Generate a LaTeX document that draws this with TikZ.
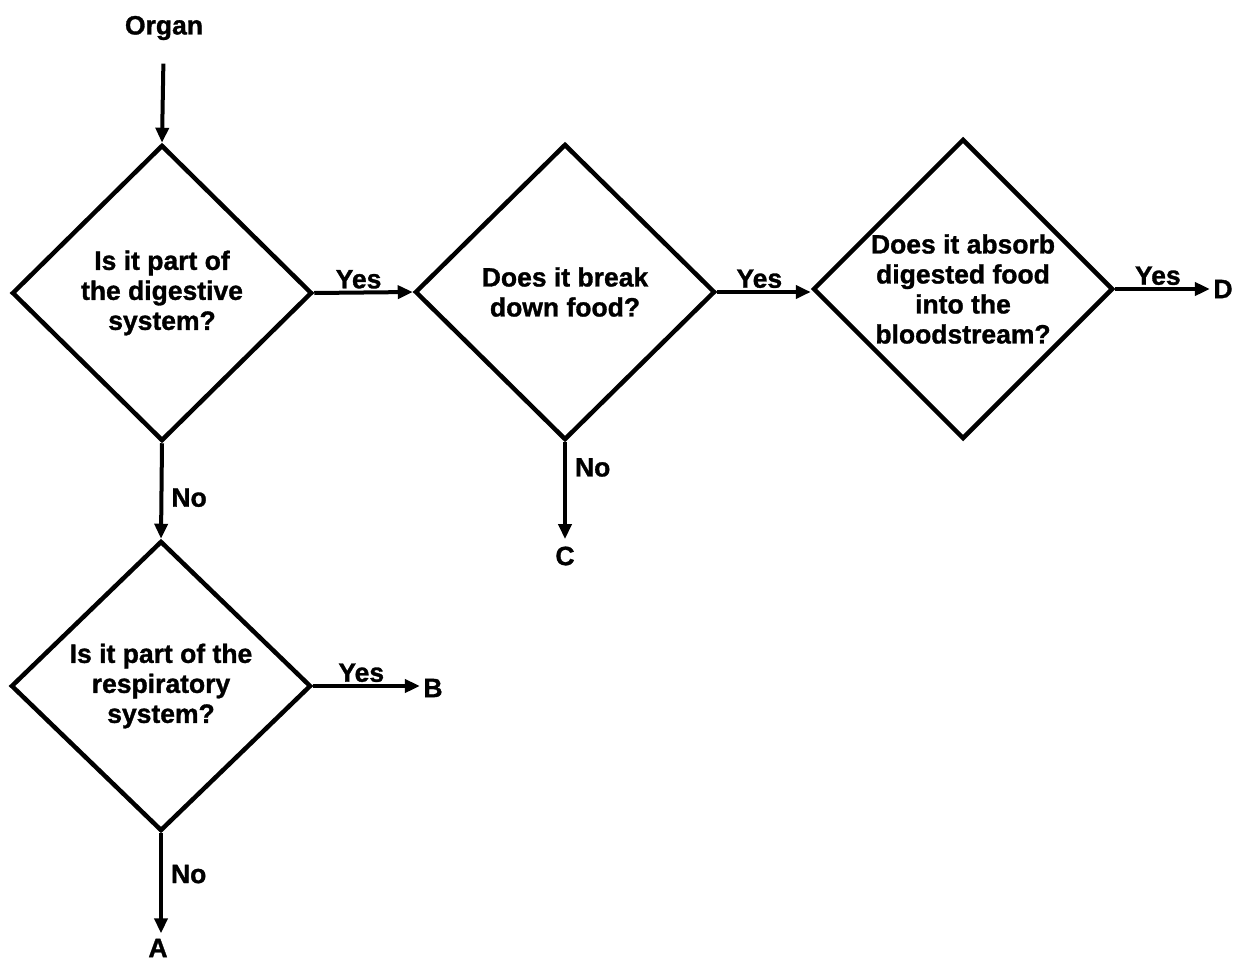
\documentclass[tikz,border=0pt]{standalone}
\usepackage{fontspec}
\setmainfont[FakeBold=1.2]{Liberation Sans}
\usetikzlibrary{shapes.geometric,arrows.meta}
\begin{document}
\begin{tikzpicture}[x=1pt,y=-1pt,
  every node/.style={font=\fontsize{26.5}{30}\selectfont\bfseries},
  dec/.style={draw,shape=diamond,line width=4.5pt,inner sep=0pt,align=center,
    minimum width=300pt,minimum height=296pt},
  arr/.style={line width=4pt,-{Triangle[length=15pt,width=13pt]}},
  lbl/.style={inner sep=2pt}]
\useasboundingbox (0,0) rectangle (1233,963);
\node (organ) at (164,28) {Organ};
\node[dec] (d1) at (162,293) {Is it part of\\the digestive\\system?};
\node[dec] (d2) at (565,292) {Does it break\\down food?};
\node[dec,minimum height=300pt] (d3) at (963,289) {Does it absorb\\digested food\\into the\\bloodstream?};
\node[dec,minimum height=290pt] (d4) at (161,686) {Is it part of the\\respiratory\\system?};
\node (A) at (158,948) {A};
\node (B) at (433,688) {B};
\node (C) at (565,556) {C};
\node (D) at (1223,289) {D};
\draw[arr,shorten <=20pt] (organ) -- (d1.north);
\draw[arr] (d1.east) -- (d2.west) node[lbl,pos=0.45,above] {Yes};
\draw[arr] (d2.east) -- (d2.east -| d3.west) node[lbl,pos=0.45,above] {Yes};
\draw[arr] (d3.east) -- (D.west |- d3.east) node[lbl,pos=0.45,above] {Yes};
\draw[arr,shorten >=4pt] (d2.south) -- (C.north) node[lbl,pos=0.25,right=6pt] {No};
\draw[arr] (d1.south) -- (d4.north) node[lbl,pos=0.57,right=6pt] {No};
\draw[arr] (d4.east) -- (B.west |- d4.east) node[lbl,pos=0.45,above] {Yes};
\draw[arr,shorten >=2pt] (d4.south) -- (d4.south |- A.north) node[lbl,pos=0.4,right=6pt] {No};
\end{tikzpicture}
\end{document}
